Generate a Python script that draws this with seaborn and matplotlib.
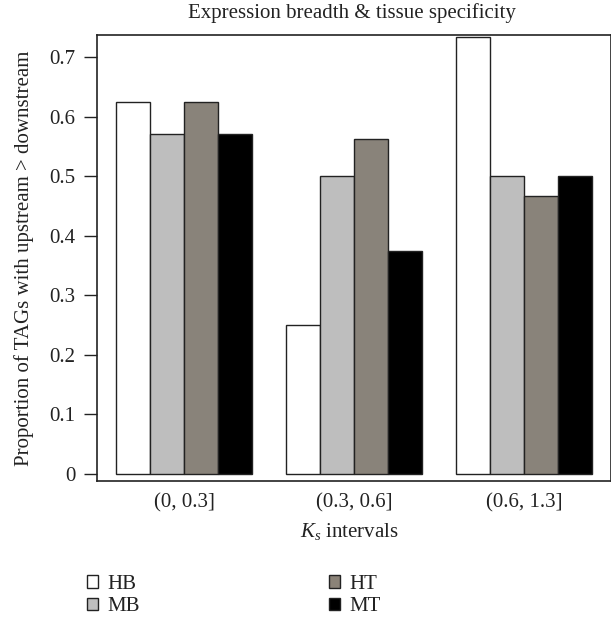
import matplotlib
matplotlib.use("Agg")
import matplotlib.pyplot as plt
import seaborn as sns
import pandas as pd
from matplotlib.patches import Patch

categories = ["(0, 0.3]", "(0.3, 0.6]", "(0.6, 1.3]"]
groups = ["HB", "MB", "HT", "MT"]
hb = [0.625, 0.25, 0.733]
mb = [0.571, 0.5, 0.5]
ht = [0.625, 0.5625, 0.467]
mt = [0.571, 0.375, 0.5]
colors = ["#FFFFFF", "#BEBEBE", "#8B8378", "#000000"]

rows = []
for g, vals in zip(groups, [hb, mb, ht, mt]):
    for c, v in zip(categories, vals):
        rows.append({"interval": c, "group": g, "value": v})
df = pd.DataFrame(rows)

sns.set_theme(style="white")
plt.rcParams["font.family"] = ["Liberation Serif", "DejaVu Serif"]
plt.rcParams["mathtext.fontset"] = "custom"
plt.rcParams["mathtext.it"] = "Liberation Serif:italic"
plt.rcParams["mathtext.rm"] = "Liberation Serif"

FS = 15
TXT = "#222222"

fig = plt.figure(figsize=(6.11, 6.21), dpi=100)
ax = fig.add_axes([97 / 611, 140 / 621, 514 / 611, 446 / 621])

sns.barplot(data=df, x="interval", y="value", hue="group", order=categories,
            hue_order=groups, palette=colors, width=0.8, gap=0,
            edgecolor="#222222", linewidth=1.0, ax=ax, legend=False)

ax.set_xlim(-0.512, 2.512)
ax.set_ylim(-0.012, 0.737)
ax.set_yticks([0, 0.1, 0.2, 0.3, 0.4, 0.5, 0.6, 0.7])
ax.set_yticklabels(["0", "0.1", "0.2", "0.3", "0.4", "0.5", "0.6", "0.7"])
ax.tick_params(axis="y", length=9.4, width=1, color="#222222", direction="out",
               labelsize=FS, pad=6, left=True, labelcolor=TXT)
ax.tick_params(axis="x", length=0, labelsize=FS, pad=9, labelcolor=TXT)
for s in ax.spines.values():
    s.set_visible(True)
    s.set_color("#222222")
    s.set_linewidth(1.2)

ax.set_xlabel("$K_s$ intervals", fontsize=FS, color=TXT)
ax.xaxis.label.set_va("center")
ax.xaxis.set_label_coords(0.49, (481 - 532) / 446)
ax.set_ylabel("Proportion of TAGs with upstream > downstream", fontsize=FS,
              color=TXT)
ax.yaxis.label.set_va("center")
ax.yaxis.set_label_coords((24 - 97) / 514, 0.5)
fig.text(352 / 611, 1 - 13 / 621, "Expression breadth & tissue specificity",
         ha="center", va="center", fontsize=FS, color=TXT)

handles = [Patch(facecolor=c, edgecolor="#222222", linewidth=1.0) for c in colors]
fig.legend(handles, groups, ncol=2, loc="upper left",
           bbox_to_anchor=(87 / 611, 1 - 575 / 621), frameon=False,
           fontsize=FS, handlelength=0.53, handleheight=0.53,
           handletextpad=0.43, columnspacing=9.1, labelspacing=0.15,
           borderaxespad=0, borderpad=0, labelcolor=TXT)

fig.savefig("out.png", dpi=100)
